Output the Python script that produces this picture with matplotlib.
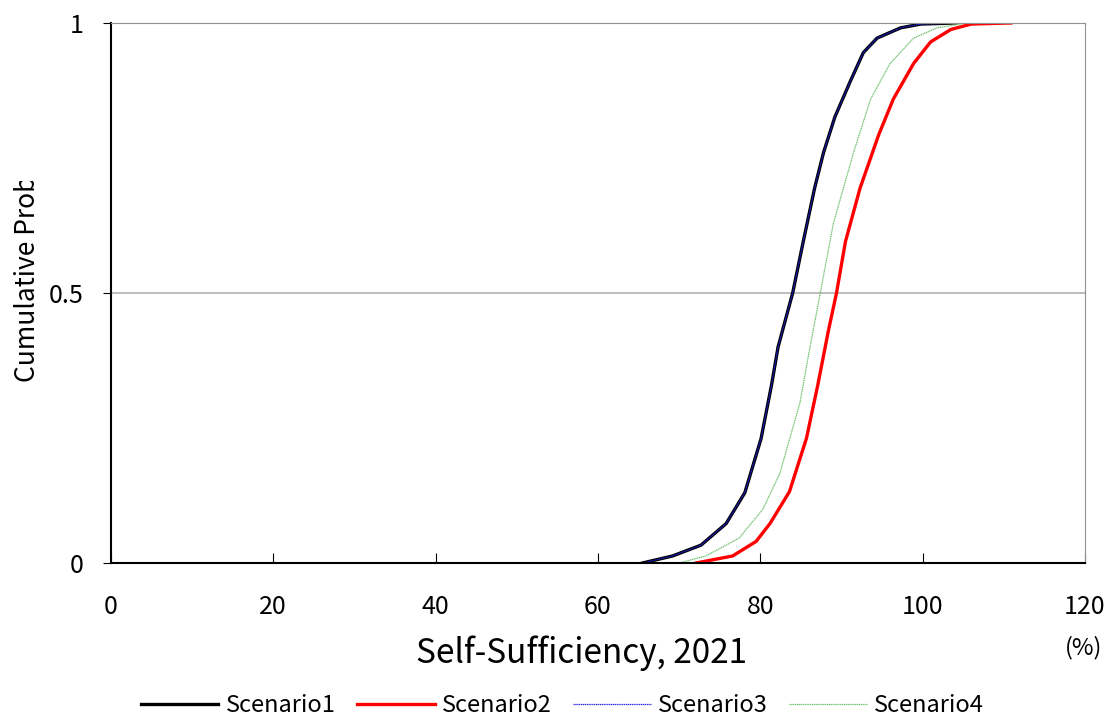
import matplotlib
matplotlib.use("Agg")
import matplotlib.pyplot as plt
from matplotlib.transforms import Bbox

plt.rcParams['font.family'] = ['Noto Sans CJK KR', 'DejaVu Sans']

# cumulative probability levels and self-sufficiency (%)
s1_x = [65.5, 69.2, 72.7, 75.8, 78.1, 80.1, 81.4, 82.2, 84.0, 85.3, 86.7,
        87.8, 89.2, 91.1, 92.7, 94.4, 97.3, 99.8, 104.1]
s1_p = [0.0, 0.013, 0.033, 0.073, 0.13, 0.23, 0.33, 0.40, 0.50, 0.595, 0.694,
        0.76, 0.826, 0.892, 0.945, 0.972, 0.991, 0.998, 1.0]

s2_x = [72.1, 76.6, 79.5, 81.2, 83.6, 85.7, 87.1, 88.4, 89.4, 90.5, 92.3,
        94.6, 96.4, 98.9, 101.0, 103.5, 106.0, 110.9]
s2_p = [0.0, 0.013, 0.04, 0.073, 0.132, 0.231, 0.33, 0.43, 0.50, 0.595, 0.694,
        0.793, 0.859, 0.925, 0.965, 0.988, 0.998, 1.0]

s3_x = [65.5, 69.2, 72.7, 75.8, 78.1, 80.1, 81.4, 82.2, 84.0, 85.3, 86.7,
        87.8, 89.2, 91.1, 92.7, 94.4, 97.3, 99.8, 104.1]
s3_p = [0.0, 0.013, 0.033, 0.073, 0.13, 0.23, 0.33, 0.40, 0.50, 0.595, 0.694,
        0.76, 0.826, 0.892, 0.945, 0.972, 0.991, 0.998, 1.0]

s4_x = [70.0, 73.3, 77.4, 80.3, 82.4, 84.9, 86.1, 87.4, 89.0, 91.5, 93.6,
        96.0, 98.9, 101.8, 105.5]
s4_p = [0.0, 0.013, 0.046, 0.099, 0.165, 0.297, 0.397, 0.50, 0.628, 0.76,
        0.859, 0.925, 0.972, 0.991, 1.0]

x_ticks = [0, 20, 40, 60, 80, 100, 120]
y_ticks = [0, 0.5, 1]

fig = plt.figure(figsize=(11.13, 7.18), dpi=100)
ax = fig.add_axes([0.0997, 0.2159, 0.875, 0.7521])

ax.plot(s1_x, s1_p, color='black', lw=2.4, label='Scenario1')
ax.plot(s2_x, s2_p, color='#ff0000', lw=2.4, label='Scenario2')
ax.plot(s3_x, s3_p, color='#2020e0', lw=0.9, ls=(0, (1, 0.5)), label='Scenario3')
ax.plot(s4_x, s4_p, color='#6cc06c', lw=0.9, ls=(0, (1, 0.5)), label='Scenario4')

ax.set_xlim(0, 120)
ax.set_ylim(0, 1)
ax.set_xticks(x_ticks)
ax.set_xticklabels([str(t) for t in x_ticks])
ax.set_yticks(y_ticks)
ax.set_yticklabels(['0', '0.5', '1'])
ax.tick_params(axis='x', direction='in', length=7, labelsize=18, pad=22)
ax.tick_params(axis='y', direction='out', length=6, labelsize=18, pad=14)
ax.yaxis.grid(True, color='#b0b0b0', lw=1.2)
ax.set_axisbelow(True)

for side in ['top', 'right']:
    ax.spines[side].set_color('#909090')
for side in ['left', 'bottom']:
    ax.spines[side].set_color('black')
    ax.spines[side].set_linewidth(1.5)

ax.set_xlabel('Self-Sufficiency, 2021', fontsize=24)
ax.xaxis.set_label_coords(0.483, -0.135)
fig.text(0.990, 0.098, '(%)', fontsize=17, ha='right', va='center')

# y label is cut off at the top in the original
yl = fig.text(0.025, 0.612, 'Cumulative Prob', fontsize=19, rotation=90,
              ha='center', va='center')
yl.set_clip_box(Bbox.from_extents(0, 0, 100, 537))
yl.set_clip_on(True)

fig.legend(loc='lower center', ncol=4, frameon=False, fontsize=17,
           handlelength=3.3, handletextpad=0.3, columnspacing=0.9,
           bbox_to_anchor=(0.505, -0.028))

fig.savefig('out.png', dpi=100)
